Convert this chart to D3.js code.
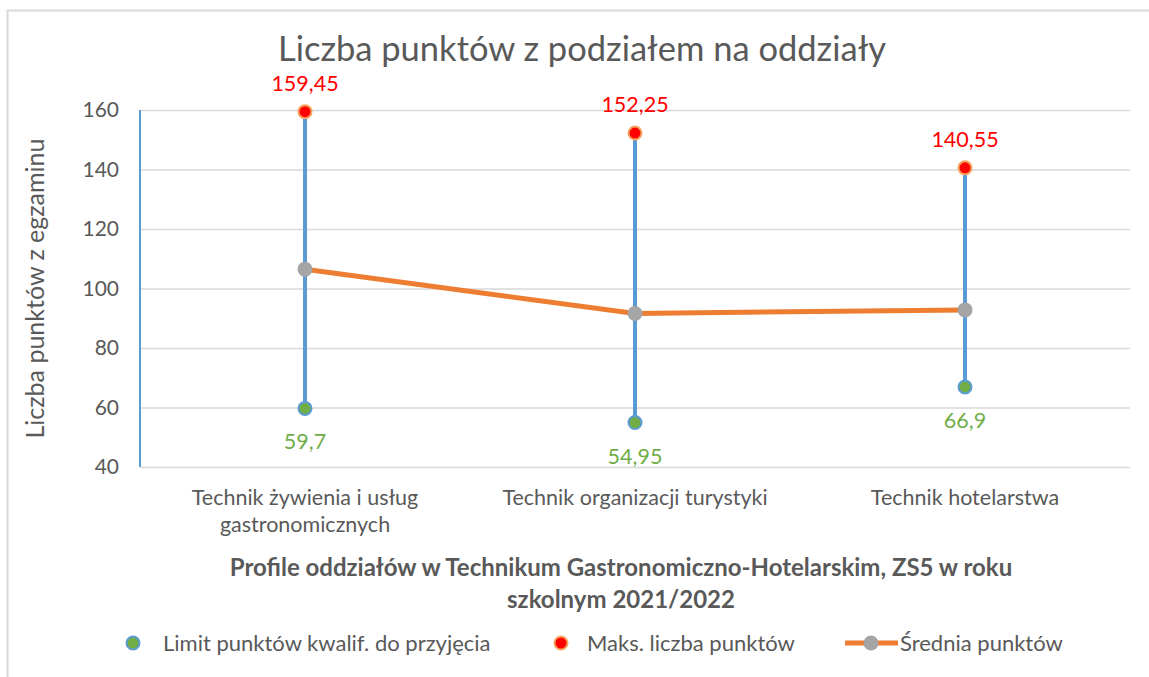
<!DOCTYPE html>
<html>
<head>
<meta charset="utf-8">
<script src="https://cdn.jsdelivr.net/npm/d3@7"></script>
<style>
  body { margin: 0; background: #fff; }
  text { font-family: Lato, "Open Sans", sans-serif; }
</style>
</head>
<body>
<div id="chart"></div>
<script>
// data
var categories = [["Technik żywienia i usług", "gastronomicznych"], ["Technik organizacji turystyki"], ["Technik hotelarstwa"]];
var limitPts = [59.7, 54.95, 66.9];
var maxPts = [159.45, 152.25, 140.55];
var avgPts = [106.5, 91.6, 92.8];
var yTicks = [40, 60, 80, 100, 120, 140, 160];

var W = 1149, H = 677;
var margin = {top: 110, right: 19, bottom: 210, left: 140},
    width = W - margin.left - margin.right,
    height = H - margin.top - margin.bottom;

var svg = d3.select("#chart").append("svg")
  .attr("width", W).attr("height", H);

// chart frame
svg.append("rect")
  .attr("x", 7.5).attr("y", 10.5)
  .attr("width", W + 20).attr("height", H + 20)
  .attr("fill", "none").attr("stroke", "#d9d9d9").attr("stroke-width", 2);

var g = svg.append("g").attr("transform", "translate(" + margin.left + "," + margin.top + ")");

var x = d3.scaleBand().domain(d3.range(categories.length)).range([0, width]);
var y = d3.scaleLinear().domain([40, 160]).range([height, 0]);

// grid lines
g.append("g")
  .call(d3.axisLeft(y).tickValues(yTicks).tickSize(-width).tickFormat(""))
  .call(function(a) { a.select(".domain").remove(); })
  .selectAll("line").attr("stroke", "#d9d9d9").attr("stroke-width", 1.5);

// y axis labels
var yAx = g.append("g")
  .call(d3.axisLeft(y).tickValues(yTicks).tickSize(0).tickPadding(21));
yAx.select(".domain").remove();
yAx.selectAll("text").attr("fill", "#595959").style("font-size", "21px");

// y axis line (blue, like the original)
g.append("line")
  .attr("x1", 0).attr("x2", 0).attr("y1", 0).attr("y2", height)
  .attr("stroke", "#5b9bd5").attr("stroke-width", 2);

// category labels
var xAx = g.append("g").attr("transform", "translate(0," + height + ")");
categories.forEach(function(c, i) {
  var t = xAx.append("text")
    .attr("x", x(i) + x.bandwidth() / 2)
    .attr("y", 38)
    .attr("text-anchor", "middle")
    .attr("fill", "#595959")
    .style("font-size", "21.5px");
  c.forEach(function(line, j) {
    t.append("tspan").attr("x", x(i) + x.bandwidth() / 2).attr("dy", j ? 27 : 0).text(line);
  });
});

var cx = function(i) { return x(i) + x.bandwidth() / 2; };

// high-low lines
g.selectAll(".hilo").data(maxPts).enter().append("line")
  .attr("x1", function(d, i) { return cx(i); })
  .attr("x2", function(d, i) { return cx(i); })
  .attr("y1", function(d) { return y(d); })
  .attr("y2", function(d, i) { return y(limitPts[i]); })
  .attr("stroke", "#5b9bd5").attr("stroke-width", 4);

// average line
g.append("path")
  .datum(avgPts)
  .attr("fill", "none").attr("stroke", "#ed7d31").attr("stroke-width", 5)
  .attr("d", d3.line().x(function(d, i) { return cx(i); }).y(function(d) { return y(d); }));

g.selectAll(".avg").data(avgPts).enter().append("circle")
  .attr("cx", function(d, i) { return cx(i); })
  .attr("cy", function(d) { return y(d); })
  .attr("r", 7.5).attr("fill", "#a5a5a5");

// max markers
g.selectAll(".mx").data(maxPts).enter().append("circle")
  .attr("cx", function(d, i) { return cx(i); })
  .attr("cy", function(d) { return y(d); })
  .attr("r", 6.5).attr("fill", "#ff0000").attr("stroke", "#f4a460").attr("stroke-width", 2);

// limit markers
g.selectAll(".lim").data(limitPts).enter().append("circle")
  .attr("cx", function(d, i) { return cx(i); })
  .attr("cy", function(d) { return y(d); })
  .attr("r", 6.5).attr("fill", "#70ad47").attr("stroke", "#5b9bd5").attr("stroke-width", 2);

var fmt = function(v) { return String(v).replace(".", ","); };

// data labels
g.selectAll(".mxl").data(maxPts).enter().append("text")
  .attr("x", function(d, i) { return cx(i); })
  .attr("y", function(d) { return y(d) - 21; })
  .attr("text-anchor", "middle").attr("fill", "#ff0000")
  .style("font-size", "21.5px").text(fmt);

g.selectAll(".liml").data(limitPts).enter().append("text")
  .attr("x", function(d, i) { return cx(i); })
  .attr("y", function(d) { return y(d) + 41; })
  .attr("text-anchor", "middle").attr("fill", "#70ad47")
  .style("font-size", "21.5px").text(fmt);

// title
svg.append("text")
  .attr("x", 582).attr("y", 61)
  .attr("text-anchor", "middle").attr("fill", "#595959")
  .style("font-size", "34.5px")
  .text("Liczba punktów z podziałem na oddziały");

// y axis title
svg.append("text")
  .attr("transform", "translate(44," + (margin.top + height / 2) + ") rotate(-90)")
  .attr("text-anchor", "middle").attr("fill", "#595959")
  .style("font-size", "25px")
  .text("Liczba punktów z egzaminu");

// x axis title
var xt = svg.append("text")
  .attr("text-anchor", "middle").attr("fill", "#595959")
  .style("font-size", "24px").style("font-weight", "bold");
xt.append("tspan").attr("x", 621).attr("y", 576).text("Profile oddziałów w Technikum Gastronomiczno-Hotelarskim, ZS5 w roku");
xt.append("tspan").attr("x", 621).attr("y", 608).text("szkolnym 2021/2022");

// legend
var leg = svg.append("g");
leg.append("circle").attr("cx", 133).attr("cy", 643).attr("r", 6.5)
  .attr("fill", "#70ad47").attr("stroke", "#5b9bd5").attr("stroke-width", 2);
leg.append("text").attr("x", 163).attr("y", 651).attr("fill", "#595959")
  .style("font-size", "22px").text("Limit punktów kwalif. do przyjęcia");
leg.append("circle").attr("cx", 561).attr("cy", 643).attr("r", 6.5)
  .attr("fill", "#ff0000").attr("stroke", "#f4a460").attr("stroke-width", 2);
leg.append("text").attr("x", 587).attr("y", 651).attr("fill", "#595959")
  .style("font-size", "22px").text("Maks. liczba punktów");
leg.append("line").attr("x1", 845).attr("x2", 898).attr("y1", 643).attr("y2", 643)
  .attr("stroke", "#ed7d31").attr("stroke-width", 5);
leg.append("circle").attr("cx", 871).attr("cy", 643).attr("r", 7.5).attr("fill", "#a5a5a5");
leg.append("text").attr("x", 900).attr("y", 651).attr("fill", "#595959")
  .style("font-size", "22px").text("Średnia punktów");
</script>
</body>
</html>
